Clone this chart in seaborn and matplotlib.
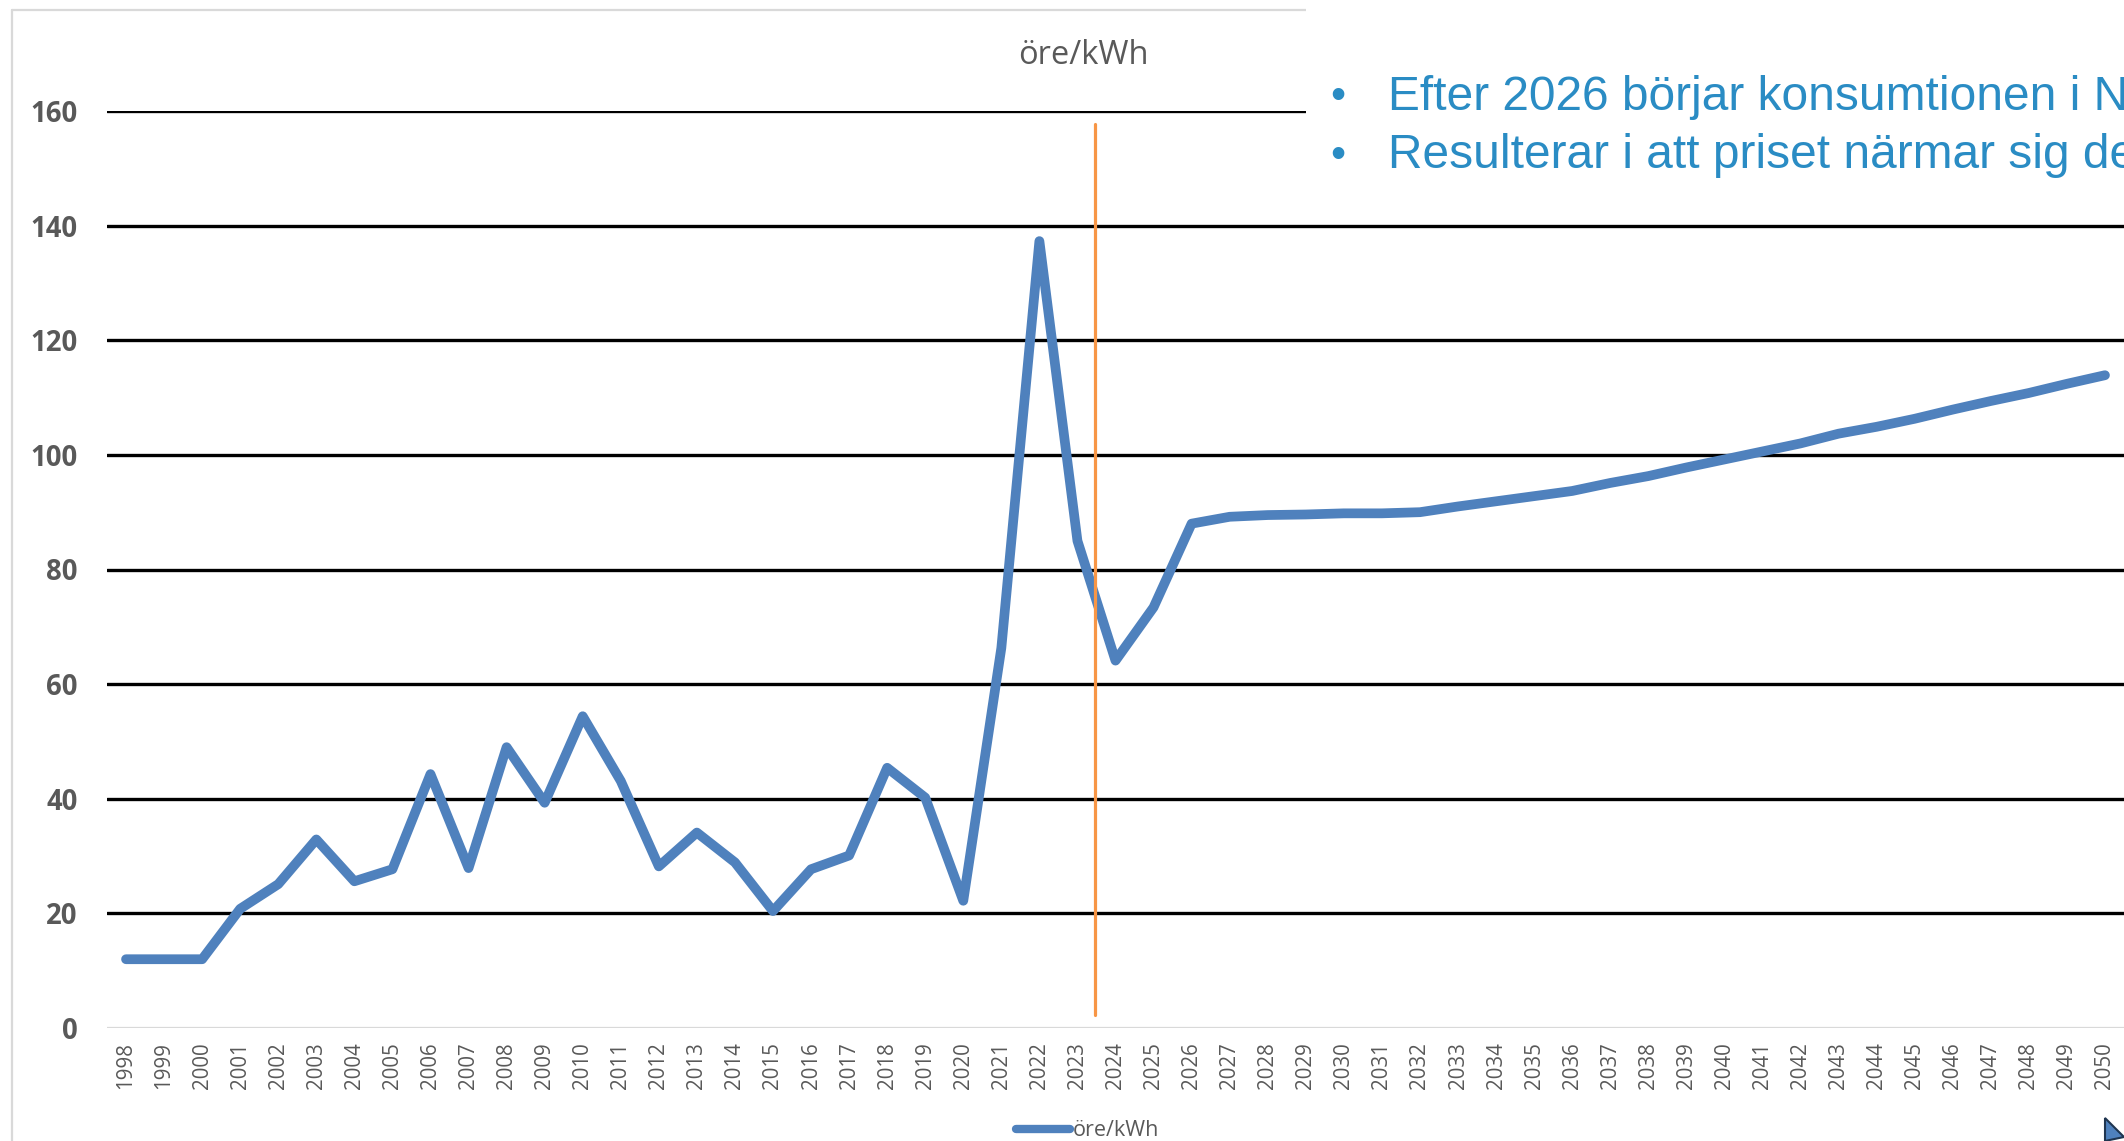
import numpy as np
import pandas as pd
import matplotlib
matplotlib.use("Agg")
import matplotlib.pyplot as plt
import seaborn as sns
from matplotlib.patches import Rectangle, Polygon
from matplotlib.lines import Line2D

# ---- data ----
years = list(range(1998, 2051))
prices = [12.0, 12.0, 12.0, 20.8, 25.1, 32.9, 25.6, 27.7, 44.3, 27.9,
          49.0, 39.3, 54.4, 43.1, 28.2, 34.1, 28.9, 20.4, 27.7, 30.1,
          45.4, 40.2, 22.2, 66.3, 137.3, 85.0, 64.1, 73.4, 88.0, 89.2,
          89.5, 89.6, 89.8, 89.8, 90.0, 91.0, 91.9, 92.8, 93.7, 95.1,
          96.3, 97.8, 99.2, 100.6, 102.0, 103.7, 104.9, 106.3, 107.9, 109.4,
          110.8, 112.4, 113.9]
y_ticks = [0, 20, 40, 60, 80, 100, 120, 140, 160]
series_name = "öre/kWh"
chart_title = "öre/kWh"
marker_year = 2023.46
marker_range = [2.3, 157.7]
bullets = ["Efter 2026 börjar konsumtionen i N",
           "Resulterar i att priset närmar sig de"]

df = pd.DataFrame({"År": years, series_name: prices})

# ---- style ----
sns.set_theme(style="white")
plt.rcParams["font.family"] = ["Open Sans", "DejaVu Sans"]

W, H = 2124, 1141
fig = plt.figure(figsize=(W / 100, H / 100), dpi=100)
fig.patch.set_facecolor("white")

left = 107 / W
bottom = 1 - 1028 / H
top = 1 - 111 / H
ax = fig.add_axes([left, bottom, 1.0 - left, top - bottom])
ax.set_facecolor("none")

grey = "#595959"
blue = "#4F81BD"
orange = "#F79646"

# gridlines
for t in y_ticks[1:]:
    ax.axhline(t, color="black", lw=2.4, zorder=1)
ax.axhline(0, color="#D9D9D9", lw=1.6, zorder=1)

sns.lineplot(data=df, x="År", y=series_name, ax=ax, color=blue, lw=7.0,
             solid_capstyle="round", solid_joinstyle="round", zorder=3,
             legend=False)

ax.plot([marker_year, marker_year], marker_range, color=orange, lw=2.3, zorder=4)

ax.set_xlim(years[0] - 0.5, years[-1] + 0.5)
ax.set_ylim(0, 160)
ax.set_yticks(y_ticks)
ax.set_yticklabels([str(t) for t in y_ticks], fontsize=19.8, fontweight="bold", color=grey)
ax.set_xticks(years)
ax.set_xticklabels([str(y) for y in years], rotation=90, fontsize=14.8, color=grey)
ax.tick_params(axis="y", length=0, pad=21)
ax.tick_params(axis="x", length=0, pad=10)
ax.set_xlabel("")
ax.set_ylabel("")
for s in ax.spines.values():
    s.set_visible(False)

# title
fig.text(1083 / W, 1 - 55 / H, chart_title, ha="center", va="center",
         fontsize=23.5, color=grey)

# chart frame
fig.add_artist(Line2D([12 / W, 12 / W], [1 - 10 / H, 0], transform=fig.transFigure,
                      color="#D9D9D9", lw=1.6))
fig.add_artist(Line2D([12 / W, 1], [1 - 10 / H, 1 - 10 / H], transform=fig.transFigure,
                      color="#D9D9D9", lw=1.6))

# legend
leg_handle = Line2D([0], [0], color=blue, lw=6.0, solid_capstyle="round")
fig.legend([leg_handle], [series_name], loc="center left",
           bbox_to_anchor=(1005 / W, 1 - 1131 / H), frameon=False,
           fontsize=15.5, handlelength=2.5, handletextpad=0.15,
           labelcolor=grey, borderpad=0)

# overlay text box (slide)
fig.add_artist(Rectangle((1306 / W, 1 - 192 / H), 1 - 1306 / W, 192 / H,
                         transform=fig.transFigure, facecolor="white",
                         edgecolor="none", zorder=10))
txt_blue = "#2A8CC4"
for i, line in enumerate(bullets):
    yc = 1 - (97 + 59 * i) / H
    fig.text(1330 / W, yc, "•", ha="left", va="center", fontsize=31,
             color=txt_blue, family=["Liberation Sans", "DejaVu Sans"], zorder=11)
    fig.text(1388 / W, yc, line, ha="left", va="center", fontsize=34.5,
             color=txt_blue, family=["Liberation Sans", "DejaVu Sans"], zorder=11)

# cursor triangle bottom-right
fig.add_artist(Polygon([[2105 / W, 1 - 1118 / H], [2124 / W, 1 - 1137 / H],
                        [2105 / W, 1 - 1141 / H]], closed=True,
                       transform=fig.transFigure, facecolor=blue,
                       edgecolor="#1F3550", lw=1.5, zorder=12))

fig.savefig("out.png", dpi=100)
